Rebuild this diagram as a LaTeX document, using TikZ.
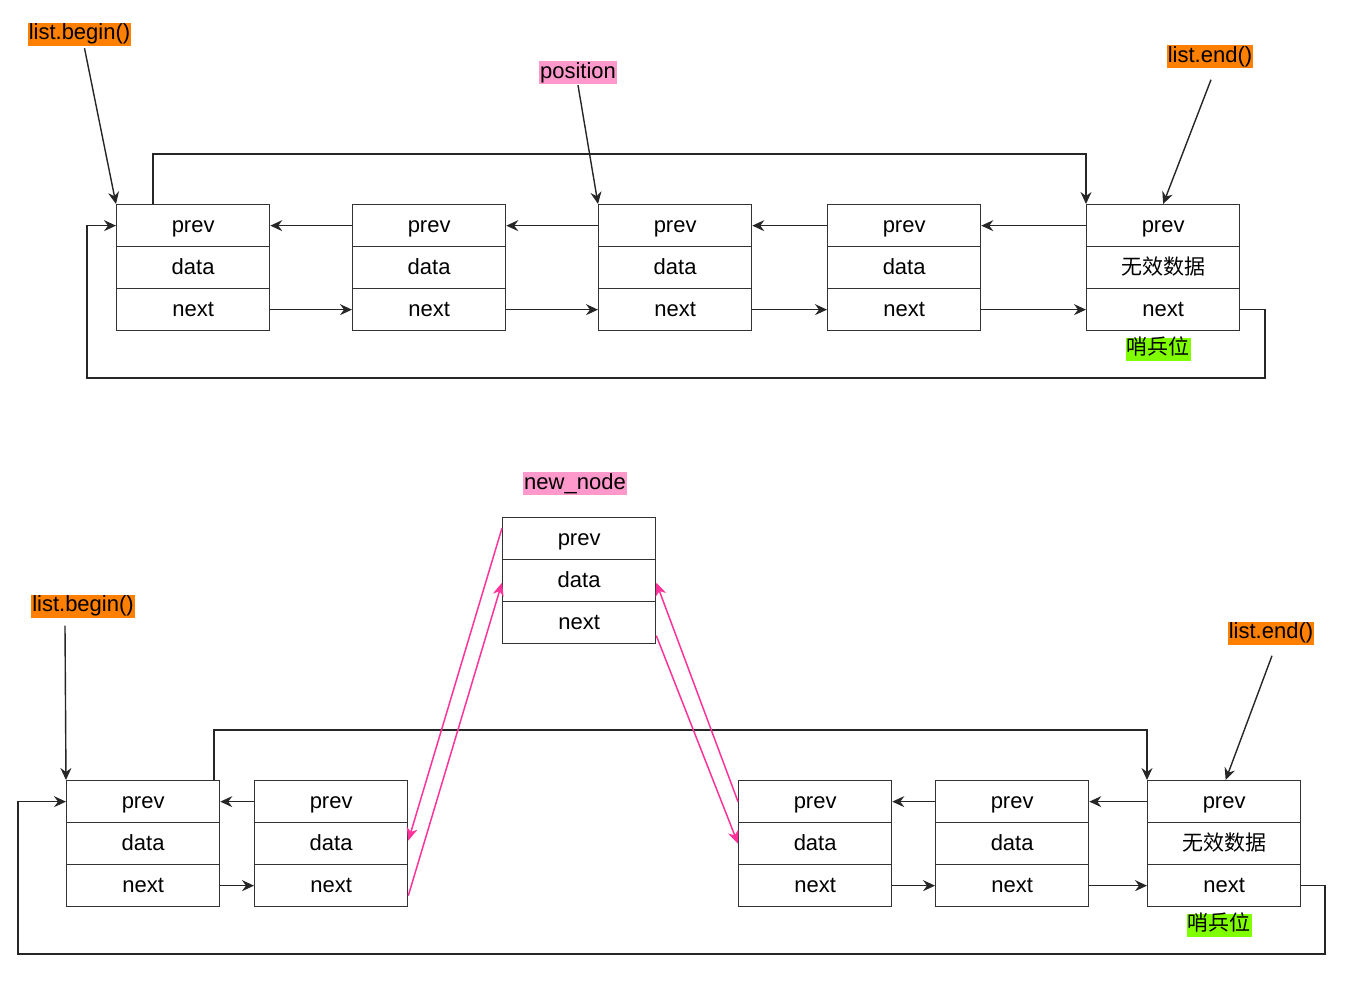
\documentclass[tikz,border=0pt]{standalone}
\usepackage{fontspec}
\setmainfont{Liberation Sans}
\newfontfamily\cjk{Noto Sans CJK SC}
\usetikzlibrary{arrows.meta}
\definecolor{tagorange}{HTML}{FF8000}
\definecolor{tagpink}{HTML}{FF99CC}
\definecolor{taggreen}{HTML}{80FF00}
\definecolor{pinkline}{HTML}{FF3399}
\tikzset{
  cell/.style={draw=black!80, line width=1.3pt, minimum width=153pt, minimum height=42pt,
    inner sep=0pt, anchor=north west, font=\fontsize{22}{26}\selectfont, text height=17pt, text depth=3pt},
  conn/.style={draw=black!85, line width=1.4pt, -{Stealth[length=12pt,width=11pt,inset=4pt]}},
  pinkarr/.style={draw=pinkline, line width=1.5pt, -{Stealth[length=13pt,width=11pt,inset=4pt]}},
  tag/.style={inner xsep=1pt, inner ysep=1pt, font=\fontsize{22}{26}\selectfont, text height=16pt, text depth=5pt}
}
\newcommand\lnode[4]{%
  \node[cell] (#1p) at (#2,-#3) {prev};
  \node[cell] (#1d) at (#2,-#3-42) {#4};
  \node[cell] (#1n) at (#2,-#3-84) {next};
}
\begin{document}
\begin{tikzpicture}[x=1pt,y=1pt]
\useasboundingbox (0,0) rectangle (1363,-990);

% ---------- top list ----------
\lnode{A1}{116}{204}{data}
\lnode{A2}{352}{204}{data}
\lnode{A3}{598}{204}{data}
\lnode{A4}{827}{204}{data}
\lnode{A5}{1086}{204}{{\cjk\fontsize{21}{24}\selectfont 无效数据}}

\node[tag, fill=tagorange] (lb1) at (79.5,-34.5) {list.begin()};
\node[tag, fill=tagpink] (pos) at (578,-72.5) {position};
\node[tag, fill=tagorange] (le1) at (1210,-57) {list.end()};
\node[tag, fill=taggreen, font=\fontsize{21}{24}\selectfont\cjk] (sb1) at (1158,-349) {哨兵位};

\foreach \a/\b in {A2/A1,A3/A2,A4/A3,A5/A4}{
  \draw[conn] (\a p.west) -- (\b p.east);
  \draw[conn] (\b n.east) -- (\a n.west);
}
\draw[conn] ([xshift=5pt,yshift=-2pt]lb1.south) -- (A1p.north west);
\draw[conn] ([yshift=-1pt]pos.south) -- (A3p.north west);
\draw[conn] ([xshift=1pt,yshift=-11pt]le1.south) -- (A5p.north);

\coordinate (t1) at (0,-154);
\draw[conn] ([xshift=37pt]A1p.north west) -- ([xshift=37pt]A1p.north west |- t1) -| (A5p.north west);
\coordinate (c1) at (1265,-378);
\coordinate (c2) at (87,-378);
\draw[conn] (A5n.east) -| (c1) -- (c2) |- (A1p.west);

% ---------- bottom list ----------
\lnode{N}{502}{517}{data}
\lnode{B1}{66}{780}{data}
\lnode{B2}{254}{780}{data}
\lnode{B3}{738}{780}{data}
\lnode{B4}{935}{780}{data}
\lnode{B5}{1147}{780}{{\cjk\fontsize{21}{24}\selectfont 无效数据}}

\node[tag, fill=tagpink] (nn) at (575,-483.5) {new\_node};
\node[tag, fill=tagorange] (lb2) at (83,-606) {list.begin()};
\node[tag, fill=tagorange] (le2) at (1271,-633) {list.end()};
\node[tag, fill=taggreen, font=\fontsize{21}{24}\selectfont\cjk] (sb2) at (1219,-925) {哨兵位};

\foreach \a/\b in {B2/B1,B4/B3,B5/B4}{
  \draw[conn] (\a p.west) -- (\b p.east);
  \draw[conn] (\b n.east) -- (\a n.west);
}
\draw[conn] ([xshift=-18pt,yshift=-8pt]lb2.south) -- (B1p.north west);
\draw[conn] ([xshift=1pt,yshift=-11pt]le2.south) -- ([xshift=1.5pt]B5p.north);

\coordinate (t2) at (0,-730);
\draw[conn] ([xshift=148pt]B1p.north west) -- ([xshift=148pt]B1p.north west |- t2) -| (B5p.north west);
\coordinate (c3) at (1325,-954);
\coordinate (c4) at (18,-954);
\draw[conn] (B5n.east) -| (c3) -- (c4) |- (B1p.west);

% pink links
\draw[pinkarr] ([yshift=-11pt]Np.north west) -- ([yshift=3pt]B2d.east);
\draw[pinkarr] ([yshift=-10pt]B2n.east) -- ([yshift=-2pt]Nd.west);
\draw[pinkarr] ([yshift=-13pt]Nn.east) -- (B3d.west);
\draw[pinkarr] (B3p.west) -- ([yshift=-2pt]Nd.east);
\end{tikzpicture}
\end{document}
